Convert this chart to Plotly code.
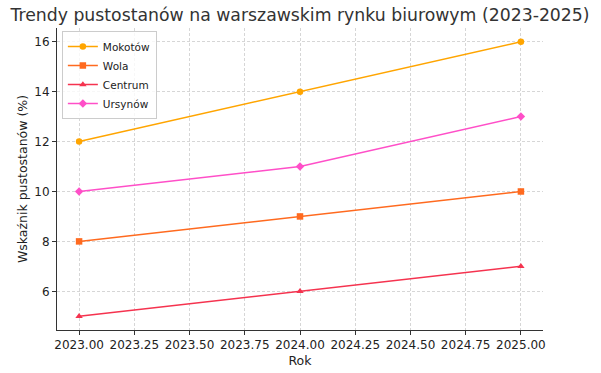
import plotly.graph_objects as go

years = [2023, 2024, 2025]
mokotow = [12, 14, 16]
wola = [8, 9, 10]
centrum = [5, 6, 7]
ursynow = [10, 11, 13]

series = [
    ("Mokotów", mokotow, "#FFA500", "circle"),
    ("Wola", wola, "#FF6A1F", "square"),
    ("Centrum", centrum, "#F5334F", "triangle-up"),
    ("Ursynów", ursynow, "#FF4FC8", "diamond"),
]

fig = go.Figure()
for name, vals, color, sym in series:
    fig.add_trace(go.Scatter(
        x=years, y=vals, name=name, mode="lines+markers",
        line=dict(color=color, width=1.5),
        marker=dict(symbol=sym, size=6.5, color=color),
    ))

fig.update_layout(
    width=601, height=373,
    margin=dict(l=57, r=58, t=28, b=43, autoexpand=False),
    paper_bgcolor="white", plot_bgcolor="white",
    font=dict(family="DejaVu Sans", size=12, color="#222"),
    title=dict(text="Trendy pustostanów na warszawskim rynku biurowym (2023-2025)",
               x=0.5, xanchor="center", xref="paper", y=0.975, yref="container", yanchor="top",
               font=dict(size=17.3, color="#333"), automargin=False),
    legend=dict(x=0.01, y=0.99, xanchor="left", yanchor="top",
                bgcolor="rgba(255,255,255,0.8)", bordercolor="#ccc", borderwidth=1,
                font=dict(size=10.5, color="#222"), tracegroupgap=0, itemwidth=30),
    showlegend=True,
)
fig.update_xaxes(
    range=[2022.9, 2025.1], tickmode="linear", tick0=2023, dtick=0.25, tickformat=".2f",
    showgrid=True, gridcolor="#d6d6d6", griddash="3px,2px", gridwidth=0.8, automargin=False,
    showline=True, linecolor="#333", linewidth=1, ticks="outside", ticklen=4, tickcolor="#333",
    zeroline=False, title=dict(text="Rok", font=dict(size=12.5), standoff=4),
    tickfont=dict(size=12), tickangle=0,
)
fig.update_yaxes(
    range=[4.45, 16.55], tickmode="linear", tick0=6, dtick=2,
    showgrid=True, gridcolor="#d6d6d6", griddash="3px,2px", gridwidth=0.8, automargin=False,
    showline=True, linecolor="#333", linewidth=1, ticks="outside", ticklen=4, tickcolor="#333",
    zeroline=False, title=dict(text="Wskaźnik pustostanów (%)", font=dict(size=12.5), standoff=3),
    tickfont=dict(size=12),
)
fig.write_html("out.html", config={"displayModeBar": False},
               post_script="document.body.style.margin='0px';document.body.style.padding='0px';")
